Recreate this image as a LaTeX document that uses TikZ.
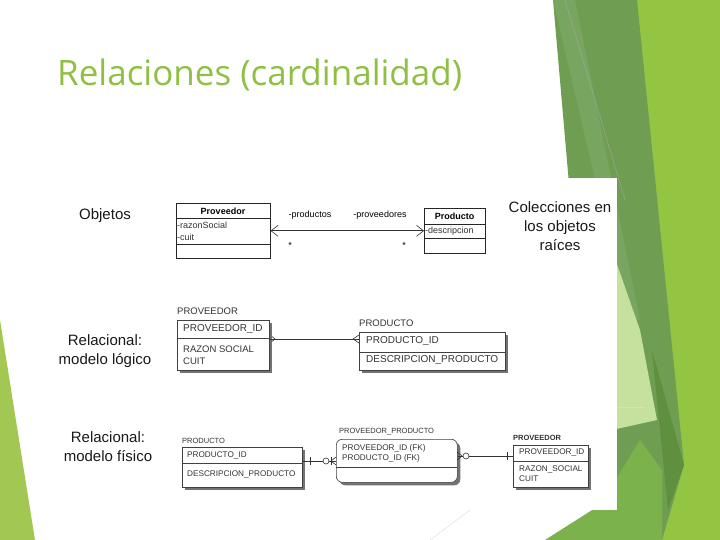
\documentclass[tikz,border=0pt]{standalone}
\usepackage{fontspec}
\setmainfont{Liberation Sans}
\newfontfamily\titlefont{Open Sans}
\usetikzlibrary{arrows.meta,shadows}
\definecolor{ttl}{HTML}{8FC043}
\definecolor{glight}{HTML}{93C543}
\definecolor{gdark}{HTML}{6F9D52}
\definecolor{gmid}{HTML}{78A660}
\definecolor{gpale}{HTML}{C6E09E}
\definecolor{gleft}{HTML}{A2C853}
\definecolor{gbot}{HTML}{7CB24B}
\definecolor{gdeep}{HTML}{5E9040}
\definecolor{tx}{HTML}{333333}
\begin{document}
\begin{tikzpicture}[x=1pt,y=-1pt,
  lbl/.style={font=\fontsize{15}{19}\selectfont, text=black!90, align=center, inner sep=0pt},
  cls/.style={draw=black!85, line width=0.6pt, fill=white, anchor=north west, inner sep=0pt},
  tbl/.style={draw=black!75, line width=0.6pt, fill=white, anchor=north west, inner sep=0pt,
    drop shadow={shadow xshift=3pt, shadow yshift=-3pt, fill=black!55, opacity=1}},
  sm/.style={font=\fontsize{9}{10}\selectfont, text=tx, anchor=west, inner sep=0pt},
  md/.style={font=\fontsize{10}{12}\selectfont, text=tx, anchor=west, inner sep=0pt},
  xs/.style={font=\fontsize{8.2}{10}\selectfont, text=tx, anchor=west, inner sep=0pt},
  con/.style={draw=black!80, line width=0.6pt}
]
\useasboundingbox (0,0) rectangle (720,540);
\fill[white] (0,0) rectangle (720,540);
% decorative greens
\fill[glight] (637,0) -- (720,0) -- (720,540) -- (640,540) -- cycle;
\fill[gdark] (553,0) -- (637,0) -- (684,465) -- (662,540) -- (600,540) -- cycle;
\fill[gmid] (553,0) -- (575,0) -- (640,320) -- (628,320) -- cycle;
\fill[gdeep] (652,350) -- (684,465) -- (668,510) -- cycle;
\fill[gpale] (612,250) -- (640,330) -- (657,420) -- (612,430) -- cycle;
\fill[gbot] (545,540) -- (600,505) -- (640,440) -- (662,470) -- (662,540) -- cycle;
\fill[gleft] (0,320) -- (35,540) -- (0,540) -- cycle;
\draw[black!35, line width=0.4pt] (565,0) -- (625,200);
\draw[white!70!gray, line width=0.4pt] (617,407) -- (645,407);
\draw[white!70!gray, line width=0.4pt] (430,540) -- (470,510);
% diagram panel
\fill[white] (55,178) rectangle (617,510);
% title
\node[anchor=base west, inner sep=0pt, text=ttl] (title) at (57,86) {\resizebox{405pt}{!}{\titlefont\fontsize{33}{36}\selectfont Relaciones (cardinalidad)}};

% ---------- row 1: objects ----------
\node[lbl] (objetos) at (105,216) {Objetos};
\node[cls, minimum width=94pt, minimum height=55pt] (prov1) at (176,203) {};
\draw[black!85, line width=0.6pt] (176,218) -- (270,218) (176,244) -- (270,244);
\node[font=\fontsize{9}{10}\selectfont\bfseries, inner sep=0pt] (prov1t) at (223,211) {Proveedor};
\node[sm] (prov1a) at (177,225) {-razonSocial};
\node[sm] (prov1b) at (177,237) {-cuit};

\node[cls, minimum width=61pt, minimum height=45pt] (prod1) at (424,208) {};
\draw[black!85, line width=0.6pt] (424,224) -- (485,224) (424,238) -- (485,238);
\node[font=\fontsize{9}{10}\selectfont\bfseries, inner sep=0pt] (prod1t) at (454.5,216) {Producto};
\node[sm] (prod1a) at (425,231) {-descripcion};

\draw[con, {Straight Barb[length=7pt,width=11pt]}-{Straight Barb[length=7pt,width=11pt]}] (prov1.east) -- (prod1.west);
\node[font=\fontsize{9}{10}\selectfont, inner sep=0pt] (rol1) at (310,215) {-productos};
\node[font=\fontsize{9}{10}\selectfont, inner sep=0pt] (rol2) at (380,215) {-proveedores};
\node[font=\fontsize{9}{10}\selectfont, inner sep=0pt] (m1) at (290,245) {*};
\node[font=\fontsize{9}{10}\selectfont, inner sep=0pt] (m2) at (404,245) {*};

\node[lbl] (coleccion) at (560,226) {Colecciones en\\los objetos\\raíces};

% ---------- row 2: logical model ----------
\node[lbl] (logico) at (105,351) {Relacional:\\modelo lógico};
\node[md, font=\fontsize{9.5}{11}\selectfont] (prov2t) at (177,311) {PROVEEDOR};
\node[tbl, minimum width=92pt, minimum height=50pt] (prov2) at (177,320) {};
\draw[black!75, line width=0.6pt] (177,338) -- (269,338);
\node[md] (prov2a) at (183,329) {PROVEEDOR\_ID};
\node[md, font=\fontsize{9.5}{11}\selectfont] (prov2b) at (183,349) {RAZON SOCIAL};
\node[md, font=\fontsize{9.5}{11}\selectfont] (prov2c) at (183,361) {CUIT};

\node[md, font=\fontsize{9.5}{11}\selectfont] (prod2t) at (359,323) {PRODUCTO};
\node[tbl, minimum width=146pt, minimum height=38pt] (prod2) at (359,332) {};
\draw[black!75, line width=0.6pt] (359,352) -- (505,352);
\node[md] (prod2a) at (366,341) {PRODUCTO\_ID};
\node[md] (prod2b) at (366,360) {DESCRIPCION\_PRODUCTO};

\coordinate (r2) at (0,339);
\coordinate (r2a) at (353,339);
\draw[con] (prov2.east |- r2) -- (prod2.west |- r2);
\draw[con] (r2a) -- (359,335) (r2a) -- (359,343);
\draw[con] (272,336.5) -- (275,339) -- (272,341.5);

% ---------- row 3: physical model ----------
\node[lbl] (fisico) at (108,447) {Relacional:\\modelo físico};
\node[xs, font=\fontsize{7.5}{9}\selectfont] (prod3t) at (182,441) {PRODUCTO};
\node[tbl, minimum width=120pt, minimum height=40pt] (prod3) at (182,447) {};
\draw[black!75, line width=0.6pt] (182,463) -- (302,463);
\node[xs] (prod3a) at (187,455) {PRODUCTO\_ID};
\node[xs] (prod3b) at (187,474) {DESCRIPCION\_PRODUCTO};

\node[xs, font=\fontsize{7.5}{9}\selectfont] (pp3t) at (339,432) {PROVEEDOR\_PRODUCTO};
\node[tbl, rounded corners=6pt, minimum width=121pt, minimum height=43pt] (pp3) at (336,439) {};
\draw[black!75, line width=0.6pt] (336,467) -- (457,467);
\node[xs] (pp3a) at (342,448) {PROVEEDOR\_ID (FK)};
\node[xs] (pp3b) at (342,458) {PRODUCTO\_ID (FK)};

\node[xs, font=\fontsize{7.5}{9}\selectfont\bfseries] (prov3t) at (513,438) {PROVEEDOR};
\node[tbl, minimum width=75pt, minimum height=42pt] (prov3) at (513,445) {};
\draw[black!75, line width=0.6pt] (513,461) -- (588,461);
\node[xs] (prov3a) at (519,452) {PROVEEDOR\_ID};
\node[xs] (prov3b) at (519,469) {RAZON\_SOCIAL};
\node[xs] (prov3c) at (519,479) {CUIT};

% connector PRODUCTO -- PROVEEDOR_PRODUCTO
\coordinate (r3) at (0,461);
\coordinate (cf1) at (331,461);
\draw[con] (prod3.east |- r3) -- (pp3.west |- r3);
\draw[con] (310,457) -- (310,465);
\draw[con, fill=white] (326,461) circle (3);
\draw[con] (331,457) -- (331,465);
\draw[con] (cf1) -- (336,457) (cf1) -- (336,465);

% connector PROVEEDOR_PRODUCTO -- PROVEEDOR
\coordinate (r4) at (0,456);
\coordinate (cf2) at (462,456);
\draw[con] (pp3.east |- r4) -- (prov3.west |- r4);
\draw[con] (cf2) -- (457,452) (cf2) -- (457,460);
\draw[con, fill=white] (466,456) circle (3);
\draw[con] (507,452) -- (507,460);
\end{tikzpicture}
\end{document}
